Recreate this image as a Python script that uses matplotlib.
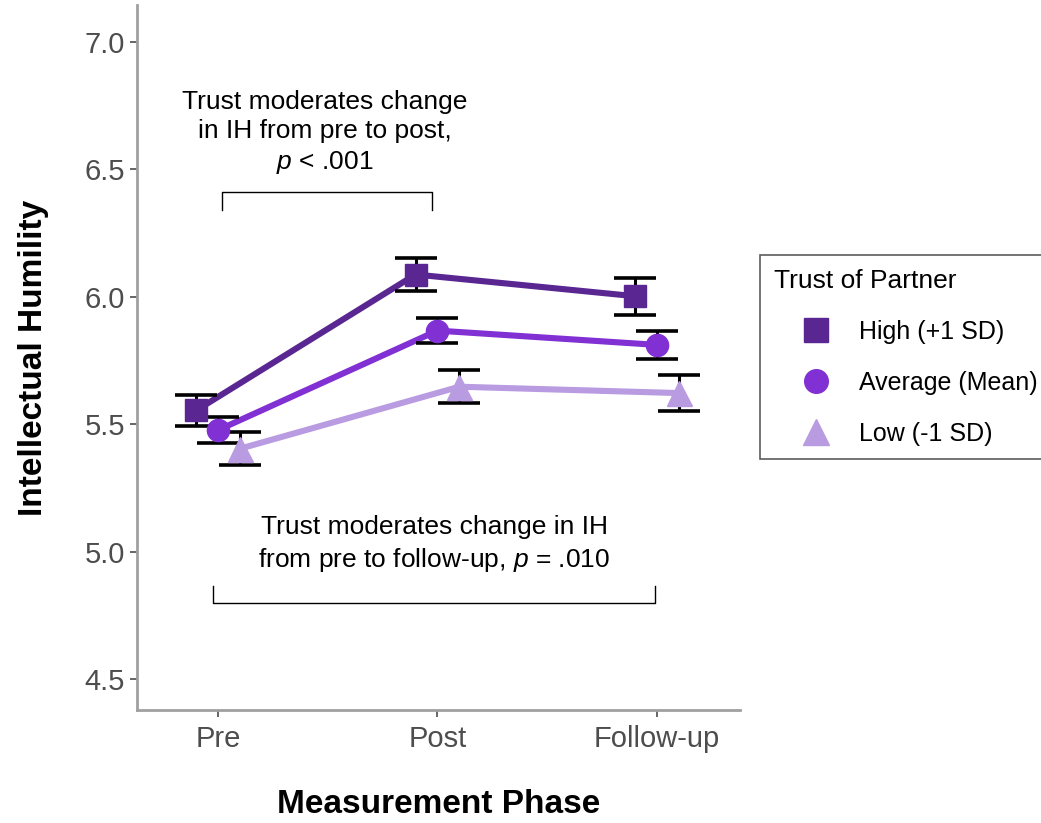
import numpy as np
import matplotlib
matplotlib.use('Agg')
import matplotlib.pyplot as plt
from matplotlib.lines import Line2D

plt.rcParams['font.family'] = ['Liberation Sans', 'DejaVu Sans']
plt.rcParams['mathtext.fontset'] = 'custom'
plt.rcParams['mathtext.rm'] = 'Liberation Sans'
plt.rcParams['mathtext.it'] = 'Liberation Sans:italic'

# estimated marginal means of intellectual humility by trust level
phases = ['Pre', 'Post', 'Follow-up']
groups = ['High (+1 SD)', 'Average (Mean)', 'Low (-1 SD)']
high_mean = [5.555, 6.088, 6.003]
high_se = [0.062, 0.065, 0.072]
avg_mean = [5.478, 5.868, 5.812]
avg_se = [0.050, 0.050, 0.056]
low_mean = [5.405, 5.648, 5.623]
low_se = [0.066, 0.064, 0.072]

colors = ['#5a2692', '#8130d3', '#b99be2']
markers = ['s', 'o', '^']
msizes = [16, 16, 18]
offsets = [-0.1, 0.0, 0.1]

fig = plt.figure(figsize=(10.41, 8.23), dpi=100)
ax = fig.add_axes([0.1316, 0.1373, 0.5794, 0.8566])

x = np.arange(len(phases))
series = [(high_mean, high_se), (avg_mean, avg_se), (low_mean, low_se)]
for (m, se), c, mk, ms, off in zip(series, colors, markers, msizes, offsets):
    xs = x + off
    ax.plot(xs, m, color=c, lw=4.4, zorder=2)
    ax.errorbar(xs, m, yerr=se, fmt='none', ecolor='black', elinewidth=2.2,
                capsize=15, capthick=2.6, zorder=3)
    ax.plot(xs, m, linestyle='none', marker=mk, ms=ms, color=c, mec=c, zorder=4)

ax.set_xlim(-0.37, 2.38)
ax.set_ylim(4.38, 7.145)
ax.set_xticks(x)
ax.set_xticklabels(phases)
ax.set_yticks([4.5, 5.0, 5.5, 6.0, 6.5, 7.0])
ax.set_yticklabels(['4.5', '5.0', '5.5', '6.0', '6.5', '7.0'])
ax.tick_params(colors='#4d4d4d', labelsize=21, width=1.2, length=5)
ax.tick_params(axis='x', pad=6)
for s in ['top', 'right']:
    ax.spines[s].set_visible(False)
for s in ['left', 'bottom']:
    ax.spines[s].set_color('#a0a0a0')
    ax.spines[s].set_linewidth(2)

ax.set_xlabel('Measurement Phase', fontsize=24, fontweight='bold', labelpad=26)
ax.set_ylabel('Intellectual Humility', fontsize=24, fontweight='bold', labelpad=26)

# significance brackets
ax.plot([0.018, 0.018, 0.977, 0.977], [6.342, 6.412, 6.412, 6.342], color='black', lw=1)
ax.text(0.486, 6.643, 'Trust moderates change\nin IH from pre to post,\n$\\it{p}$ < .001',
        ha='center', va='center', fontsize=19, linespacing=1.27)
ax.plot([-0.023, -0.023, 1.99, 1.99], [4.865, 4.80, 4.80, 4.865], color='black', lw=1)
ax.text(0.986, 5.029, 'Trust moderates change in IH\nfrom pre to follow-up, $\\it{p}$ = .010',
        ha='center', va='center', fontsize=19, linespacing=1.35)

handles = [Line2D([], [], linestyle='none', marker=mk, ms=ms + 1, color=c)
           for c, mk, ms in zip(colors, markers, msizes)]
leg = fig.legend(handles, groups, title='Trust of Partner', loc='center left',
                 bbox_to_anchor=(0.73, 0.566), fontsize=18, title_fontsize=19,
                 frameon=True, fancybox=False, edgecolor='#333333',
                 handlelength=3.4, handletextpad=0.0, labelspacing=1.08,
                 borderpad=0.55, borderaxespad=0)
leg._legend_box.align = 'left'
leg.get_frame().set_linewidth(1.2)

fig.savefig('out.png', dpi=100)
